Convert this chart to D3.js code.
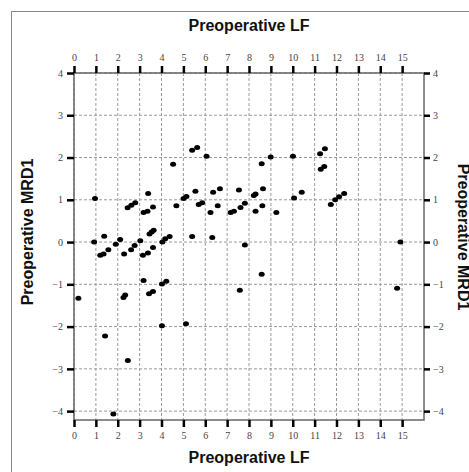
<!DOCTYPE html>
<html>
<head>
<meta charset="utf-8">
<title>Preoperative LF vs MRD1</title>
<script src="https://cdnjs.cloudflare.com/ajax/libs/d3/7.8.5/d3.min.js"></script>
<style>
  body { margin: 0; background: #fff; }
  .title { font: bold 16px "Liberation Sans", Arial, sans-serif; fill: #111; }
  .axis text { font: 10px "Liberation Serif", "Times New Roman", serif; fill: #444; }
  .axis line { stroke: #000; stroke-width: 2.5; }
  .axis path { display: none; }
  .grid line { stroke: #999; stroke-width: 1; stroke-dasharray: 3,2; }
</style>
</head>
<body>
<div id="chart"></div>
<script>
// Preoperative LF (x) and Preoperative MRD1 (y)
var lfValues = [
  4.53, 0.96, 3.39, 2.45, 2.62, 2.8, 3.18, 3.36, 3.61, 4.68,
  5.01, 5.14, 5.40, 5.63, 6.06, 8.58, 8.99, 10.01, 5.55, 5.70,
  5.86, 6.36, 6.67, 6.24, 6.57, 7.16, 7.31, 7.54, 7.61, 7.81,
  8.22, 8.30, 8.64, 8.61, 8.30, 9.25, 10.06, 10.41, 11.25, 11.47,
  11.28, 11.44, 11.74, 11.94, 12.12, 12.35,
  0.92, 1.38, 1.2, 1.35, 1.57, 1.91, 2.11, 2.29, 2.61, 2.77,
  3.03, 3.15, 3.38, 3.45, 3.55, 3.64, 3.61, 4.04, 4.17, 4.37,
  5.40, 6.32, 7.81, 14.92,
  3.18, 3.43, 3.61, 4.02, 4.22, 2.26, 2.34, 0.2, 1.42, 4.02,
  5.12, 2.46, 1.8, 8.58, 7.58, 14.77
];
var mrdValues = [
  1.84, 1.03, 1.15, 0.81, 0.87, 0.93, 0.70, 0.73, 0.83, 0.86,
  1.03, 1.08, 2.17, 2.24, 2.03, 1.85, 2.01, 2.03, 1.20, 0.89,
  0.93, 1.18, 1.26, 0.70, 0.86, 0.70, 0.73, 1.23, 0.82, 0.92,
  1.10, 1.14, 1.26, 0.86, 0.73, 0.70, 1.04, 1.18, 2.09, 2.21,
  1.72, 1.79, 0.89, 1.00, 1.07, 1.15,
  0.0, 0.14, -0.31, -0.28, -0.18, -0.05, 0.06, -0.28, -0.18, -0.08,
  0.03, -0.31, -0.26, 0.19, 0.24, 0.28, -0.13, 0.0, 0.08, 0.13,
  0.13, 0.11, -0.07, 0.0,
  -0.91, -1.22, -1.17, -0.99, -0.93, -1.31, -1.25, -1.33, -2.22, -1.98,
  -1.93, -2.80, -4.07, -0.76, -1.14, -1.09
];
var xTicks = [0, 1, 2, 3, 4, 5, 6, 7, 8, 9, 10, 11, 12, 13, 14, 15];
var yTicks = [-4, -3, -2, -1, 0, 1, 2, 3, 4];
var xTitle = "Preoperative LF";
var yTitle = "Preoperative MRD1";

var W = 469, H = 472;
var pLeft = 74, pRight = 424, pTop = 73, pBottom = 420;

var svg = d3.select("#chart").append("svg")
  .attr("width", W).attr("height", H);

// outer border
svg.append("rect")
  .attr("x", 11.5).attr("y", 11.5)
  .attr("width", W + 20).attr("height", H + 20)
  .attr("fill", "none").attr("stroke", "#888").attr("stroke-width", 1);

var x = d3.scaleLinear().domain([0, 16]).range([pLeft, pRight]);
var y = d3.scaleLinear().domain([-4.21, 4]).range([pBottom, pTop]);

// dashed grid
var grid = svg.append("g").attr("class", "grid");
grid.selectAll("line.v").data(xTicks).enter().append("line")
  .attr("class", "v")
  .attr("x1", function(d) { return x(d); })
  .attr("x2", function(d) { return x(d); })
  .attr("y1", pTop).attr("y2", pBottom);
grid.selectAll("line.h").data(yTicks).enter().append("line")
  .attr("class", "h")
  .attr("y1", function(d) { return y(d); })
  .attr("y2", function(d) { return y(d); })
  .attr("x1", pLeft).attr("x2", pRight);

// frame
svg.append("rect")
  .attr("x", pLeft).attr("y", pTop)
  .attr("width", pRight - pLeft).attr("height", pBottom - pTop)
  .attr("fill", "none").attr("stroke", "#666").attr("stroke-width", 1.5);

// axes
svg.append("g").attr("class", "axis")
  .attr("transform", "translate(0," + pTop + ")")
  .call(d3.axisTop(x).tickValues(xTicks).tickSize(7).tickPadding(5));
svg.append("g").attr("class", "axis")
  .attr("transform", "translate(0," + pBottom + ")")
  .call(d3.axisBottom(x).tickValues(xTicks).tickSize(7).tickPadding(5));
svg.append("g").attr("class", "axis")
  .attr("transform", "translate(" + pLeft + ",0)")
  .call(d3.axisLeft(y).tickValues(yTicks).tickSize(7).tickPadding(4).tickFormat(d3.format("d")));
svg.append("g").attr("class", "axis")
  .attr("transform", "translate(" + pRight + ",0)")
  .call(d3.axisRight(y).tickValues(yTicks).tickSize(6).tickPadding(3).tickFormat(d3.format("d")));

// points
svg.selectAll("ellipse.pt").data(lfValues).enter().append("ellipse")
  .attr("class", "pt")
  .attr("cx", function(d) { return x(d); })
  .attr("cy", function(d, i) { return y(mrdValues[i]); })
  .attr("rx", 3).attr("ry", 2.5)
  .attr("fill", "#000");

// titles
var cx = (pLeft + pRight) / 2;
svg.append("text").attr("class", "title")
  .attr("x", cx).attr("y", 31).attr("text-anchor", "middle").text(xTitle);
svg.append("text").attr("class", "title")
  .attr("x", cx).attr("y", 463).attr("text-anchor", "middle").text(xTitle);
svg.append("text").attr("class", "title")
  .attr("transform", "translate(33,232) rotate(-90)")
  .attr("text-anchor", "middle").text(yTitle);
svg.append("text").attr("class", "title")
  .attr("transform", "translate(458,237) rotate(90)")
  .attr("text-anchor", "middle").text(yTitle);
</script>
</body>
</html>
